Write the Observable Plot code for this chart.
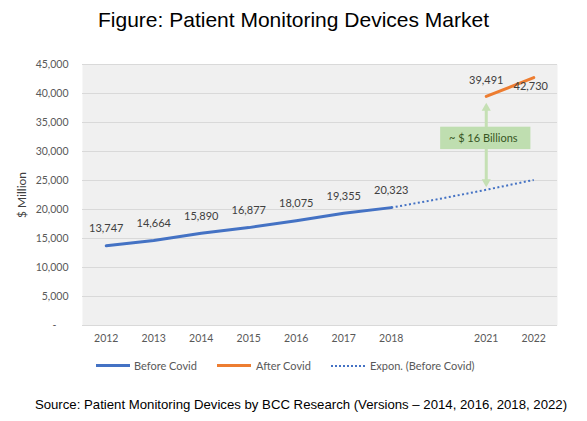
<!DOCTYPE html>
<html>
<head>
<meta charset="utf-8">
<script src="https://cdn.jsdelivr.net/npm/d3@7"></script>
<script src="https://cdn.jsdelivr.net/npm/@observablehq/plot@0.6"></script>
<style>
  html, body { margin: 0; padding: 0; background: #fff; }
  #wrap { position: relative; width: 587px; height: 421px; overflow: hidden; }
  #title { position: absolute; left: 0; top: 8px; width: 587px; text-align: center;
           font-family: "Liberation Sans", Arial, sans-serif; font-size: 21px; color: #000; }
  #chart { position: absolute; left: 0; top: 44px; }
  #legend { position: absolute; left: 0; top: 359px; width: 587px; height: 14px;
            font-family: Lato, sans-serif; font-size: 11px; color: #595959; }
  .li { position: absolute; top: 0; line-height: 14px; white-space: nowrap; }
  .sw { position: absolute; top: 6px; width: 34px; height: 0; }
  #caption { position: absolute; left: 0; top: 397px; width: 602px; text-align: center;
             font-family: "Liberation Sans", Arial, sans-serif; font-size: 13.2px; color: #000; }
</style>
</head>
<body>
<div id="wrap">
  <div id="title">Figure: Patient Monitoring Devices Market</div>
  <div id="chart"></div>
  <div id="legend">
    <div class="sw" style="left:96px;border-top:3px solid #4472c4;top:5px"></div>
    <div class="li" style="left:134px">Before Covid</div>
    <div class="sw" style="left:217px;border-top:3px solid #ed7d31;top:5px"></div>
    <div class="li" style="left:256px">After Covid</div>
    <div class="sw" style="left:331px;border-top:2px dotted #4472c4;top:6px"></div>
    <div class="li" style="left:370px">Expon. (Before Covid)</div>
  </div>
  <div id="caption">Source: Patient Monitoring Devices by BCC Research (Versions – 2014, 2016, 2018, 2022)</div>
</div>
<script>
// Category axis (one empty slot between 2018 and 2021, as in the original)
const categories = ["2012", "2013", "2014", "2015", "2016", "2017", "2018", "", "2021", "2022"];

// Before Covid series
const beforeYears = ["2012", "2013", "2014", "2015", "2016", "2017", "2018"];
const beforeValues = [13747, 14664, 15890, 16877, 18075, 19355, 20323];

// After Covid series
const afterYears = ["2021", "2022"];
const afterValues = [39491, 42730];

// Exponential trend (Before Covid), visible part
const trendSlots = ["2018", "", "2021", "2022"];
const trendValues = [20323, 21800, 23400, 25100];

// Y ticks
const yTicks = [0, 5000, 10000, 15000, 20000, 25000, 30000, 35000, 40000, 45000];

// Annotation: gap between forecasts
const annotationText = "~ $ 16 Billions";
const annotationSlot = "2021";
const arrowTop = 37490;
const arrowBottom = 24760;
const boxSlots = [7.04, 8.94];
const boxValues = [30330, 34190];

const idx = c => categories.indexOf(c);
const fmt = d3.format(",");

const before = beforeYears.map((y, i) => ({x: idx(y), y: beforeValues[i]}));
const after = afterYears.map((y, i) => ({x: idx(y), y: afterValues[i]}));
const trend = trendSlots.map((s, i) => ({x: idx(s), y: trendValues[i]}));
const ax = idx(annotationSlot);

const font = "Lato, sans-serif";

const chart = Plot.plot({
  width: 587,
  height: 310,
  marginLeft: 82,
  marginRight: 30,
  marginTop: 20,
  marginBottom: 29,
  style: {fontFamily: font, background: "transparent", overflow: "visible"},
  x: {type: "linear", domain: [-0.5, 9.5]},
  y: {domain: [0, 45000]},
  marks: [
    Plot.frame({fill: "#f0f0f0", stroke: null}),
    Plot.gridY(yTicks, {stroke: "#d9d9d9", strokeOpacity: 1, strokeWidth: 1}),
    Plot.axisY(yTicks, {
      tickSize: 0, tickPadding: 14, fontSize: 10.5, fill: "#595959",
      tickFormat: d => d === 0 ? "-\u2007\u2007" : fmt(d), label: null
    }),
    Plot.axisY([], {
      tickSize: 0, fontSize: 12, fill: "#404040",
      label: "$ Million", labelAnchor: "center", labelArrow: "none", labelOffset: 65
    }),
    Plot.axisX(categories.map((c, i) => i).filter(i => categories[i] !== ""), {
      tickSize: 0, tickPadding: 9, fontSize: 10.5, fill: "#595959",
      tickFormat: i => categories[i], label: null
    }),
    Plot.line(trend, {x: "x", y: "y", stroke: "#4472c4", strokeWidth: 2, strokeDasharray: "2 2.5", strokeLinecap: "butt"}),
    Plot.line(before, {x: "x", y: "y", stroke: "#4472c4", strokeWidth: 3, strokeLinecap: "round"}),
    Plot.line(after, {x: "x", y: "y", stroke: "#ed7d31", strokeWidth: 3, strokeLinecap: "round"}),
    Plot.text(before, {x: "x", y: "y", text: d => fmt(d.y), dy: -17, fontSize: 11, fill: "#404040"}),
    Plot.text(after.slice(0, 1), {x: "x", y: "y", text: d => fmt(d.y), dy: -16, fontSize: 11, fill: "#404040"}),
    Plot.text(after.slice(1), {x: "x", y: "y", text: d => fmt(d.y), dx: -3, dy: 9, fontSize: 11, fill: "#404040"}),
    Plot.ruleX([{x: ax, y1: arrowBottom, y2: arrowTop}], {x: "x", y1: "y1", y2: "y2", stroke: "#c5e0b4", strokeWidth: 3}),
    Plot.dot([{x: ax, y: arrowTop}], {x: "x", y: "y", symbol: "triangle", r: 3.4, fill: "#c5e0b4", stroke: null}),
    Plot.dot([{x: ax, y: arrowBottom}], {x: "x", y: "y", symbol: "triangle", r: 3.4, fill: "#c5e0b4", stroke: null, rotate: 180}),
    Plot.rect([{x1: boxSlots[0], x2: boxSlots[1], y1: boxValues[0], y2: boxValues[1]}], {x1: "x1", x2: "x2", y1: "y1", y2: "y2", fill: "#bfdeb0"}),
    Plot.text([{x: ax, y: (boxValues[0] + boxValues[1]) / 2}], {x: "x", y: "y", text: () => annotationText, dx: -3, fontSize: 11, fill: "#375623"})
  ]
});
document.getElementById("chart").appendChild(chart);
</script>
</body>
</html>
